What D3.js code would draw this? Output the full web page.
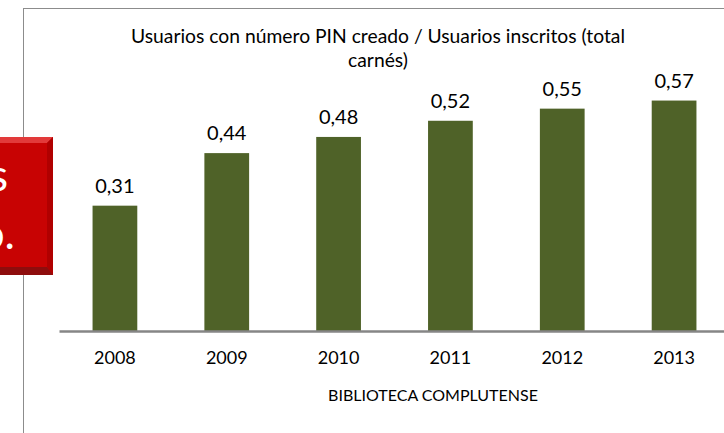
<!DOCTYPE html>
<html lang="es">
<head>
    <meta charset="UTF-8">
    <title>Usuarios con número PIN creado</title>
    <script src="https://cdnjs.cloudflare.com/ajax/libs/d3/7.8.5/d3.min.js"></script>
    <style>
        body { margin: 0; background: #fff; font-family: Lato, "Open Sans", sans-serif; }
        svg { display: block; }
        .axis text { font-size: 18px; fill: #000; font-family: Lato, "Open Sans", sans-serif; }
    </style>
</head>
<body>
    <div id="chart"></div>

    <script>
        // Data
        const years = ["2008", "2009", "2010", "2011", "2012", "2013"];
        const ratios = [0.31, 0.44, 0.48, 0.52, 0.55, 0.57];
        const titleLines = ["Usuarios con número PIN creado / Usuarios inscritos (total", "carnés)"];
        const axisTitle = "BIBLIOTECA COMPLUTENSE";

        const width = 724;
        const height = 433;

        const esLocale = d3.formatLocale({decimal: ",", thousands: ".", grouping: [3], currency: ["", " €"]});
        const fmt = esLocale.format(".2f");

        const svg = d3.select("#chart")
            .append("svg")
            .attr("width", width)
            .attr("height", height);

        // chart frame (runs off the right and bottom of the picture)
        svg.append("rect")
            .attr("x", 23.5)
            .attr("y", 8.5)
            .attr("width", 720)
            .attr("height", 440)
            .attr("fill", "#fff")
            .attr("stroke", "#8c8c8c")
            .attr("stroke-width", 1);

        const x = d3.scaleBand()
            .domain(years)
            .range([59, 730])
            .paddingInner(0.6)
            .paddingOuter(0.3);

        const y = d3.scaleLinear()
            .domain([0, 0.7])
            .range([331, 48]);

        // title
        svg.append("text")
            .attr("x", 378)
            .attr("y", 43)
            .attr("text-anchor", "middle")
            .attr("font-size", 19.3)
            .selectAll("tspan")
            .data(titleLines)
            .enter().append("tspan")
            .attr("x", 378)
            .attr("dy", (d, i) => i === 0 ? 0 : 24)
            .text(d => d);

        // bars
        svg.selectAll(".bar")
            .data(ratios)
            .enter().append("rect")
            .attr("class", "bar")
            .attr("x", (d, i) => x(years[i]))
            .attr("y", d => y(d))
            .attr("width", x.bandwidth())
            .attr("height", d => y(0) - y(d))
            .attr("fill", "#4f6228");

        // value labels
        svg.selectAll(".value")
            .data(ratios)
            .enter().append("text")
            .attr("class", "value")
            .attr("x", (d, i) => x(years[i]) + x.bandwidth() / 2)
            .attr("y", d => y(d) - 13)
            .attr("text-anchor", "middle")
            .attr("font-size", 20)
            .text(d => fmt(d));

        // x axis
        const xAxis = d3.axisBottom(x).tickSize(0).tickPadding(20);
        const gx = svg.append("g")
            .attr("class", "axis")
            .attr("transform", `translate(0, ${y(0)})`)
            .call(xAxis);
        gx.select(".domain")
            .attr("stroke", "#868686")
            .attr("stroke-width", 2.5);

        svg.append("text")
            .attr("x", 433)
            .attr("y", 401)
            .attr("text-anchor", "middle")
            .attr("font-size", 16)
            .text(axisTitle);

        // red box overlapping the left edge
        const box = svg.append("g");
        box.append("rect")
            .attr("x", 0).attr("y", 137)
            .attr("width", 53).attr("height", 138)
            .attr("fill", "#c80303");
        box.append("polygon")
            .attr("points", "0,137 53,137 47,143 0,143")
            .attr("fill", "#e23a3a");
        box.append("polygon")
            .attr("points", "47,143 53,137 53,275 47,267")
            .attr("fill", "#b00000");
        box.append("polygon")
            .attr("points", "0,267 47,267 53,275 0,275")
            .attr("fill", "#8e0d0d");
        box.append("text")
            .attr("x", 8).attr("y", 191)
            .attr("text-anchor", "end")
            .attr("font-size", 44)
            .attr("fill", "#fff")
            .text("s");
        box.append("text")
            .attr("x", 15).attr("y", 249)
            .attr("text-anchor", "end")
            .attr("font-size", 44)
            .attr("fill", "#fff")
            .text("o.");
    </script>
</body>
</html>
